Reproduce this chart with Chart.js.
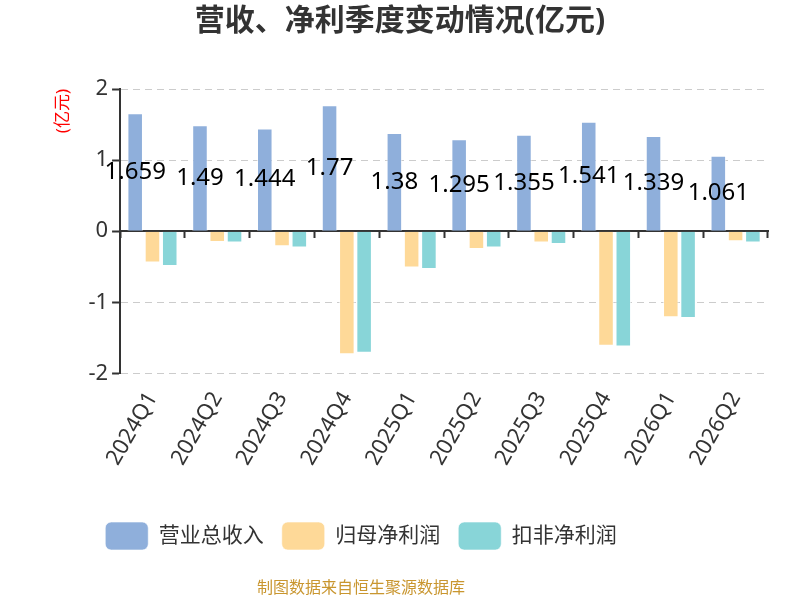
<!DOCTYPE html>
<html>
<head>
<meta charset="utf-8">
<script src="https://cdn.jsdelivr.net/npm/chart.js@4.4.1/dist/chart.umd.min.js"></script>
<style>
  html, body { margin: 0; padding: 0; background: #fff; }
</style>
</head>
<body>
<canvas id="chart" width="800" height="600"></canvas>
<script>
const quarters = ['2024Q1', '2024Q2', '2024Q3', '2024Q4', '2025Q1', '2025Q2', '2025Q3', '2025Q4', '2026Q1', '2026Q2'];
const revenue = [1.659, 1.49, 1.444, 1.77, 1.38, 1.295, 1.355, 1.541, 1.339, 1.061];
const netProfit = [-0.44, -0.15, -0.21, -1.73, -0.51, -0.25, -0.16, -1.61, -1.21, -0.14];
const deductedProfit = [-0.49, -0.16, -0.23, -1.71, -0.53, -0.23, -0.18, -1.62, -1.22, -0.16];
const seriesNames = ['营业总收入', '归母净利润', '扣非净利润'];
const yMin = -2;
const yMax = 2;

const FONT = '"Noto Sans", "Noto Sans CJK SC", sans-serif';

// value labels in the middle of the revenue bars
const barLabels = {
    id: 'barLabels',
    afterDatasetsDraw(chart) {
        const ctx = chart.ctx;
        const meta = chart.getDatasetMeta(0);
        ctx.save();
        ctx.font = '24px ' + FONT;
        ctx.fillStyle = '#000';
        ctx.textAlign = 'center';
        ctx.textBaseline = 'middle';
        meta.data.forEach((bar, i) => {
            const { x, y, base } = bar.getProps(['x', 'y', 'base'], true);
            ctx.fillText(String(revenue[i]), x, (y + base) / 2);
        });
        ctx.restore();
    }
};

// title centred on the page, legend + source line a bit left of centre
const shiftBlocks = {
    id: 'shiftBlocks',
    afterLayout(chart) {
        chart.titleBlock.left = 0;
        chart.titleBlock.right = 800;
        chart.legend.left = 0;
        chart.legend.right = 722;
    },
    afterDraw(chart) {
        const ctx = chart.ctx;
        ctx.save();
        ctx.font = '16px ' + FONT;
        ctx.fillStyle = '#c9962f';
        ctx.textAlign = 'center';
        ctx.textBaseline = 'middle';
        ctx.fillText('制图数据来自恒生聚源数据库', 361, 588);
        ctx.restore();
    }
};

new Chart(document.getElementById('chart'), {
    type: 'bar',
    data: {
        labels: quarters,
        datasets: [
            { label: seriesNames[0], data: revenue, backgroundColor: '#8fafdb' },
            { label: seriesNames[1], data: netProfit, backgroundColor: '#fed998' },
            { label: seriesNames[2], data: deductedProfit, backgroundColor: '#88d5d8' }
        ]
    },
    options: {
        responsive: false,
        animation: false,
        devicePixelRatio: 1,
        layout: { padding: { left: 53, right: 32, top: 0, bottom: 40 } },
        datasets: {
            bar: {
                categoryPercentage: 0.8,
                barPercentage: 0.9,
                borderWidth: 1,
                borderColor: 'rgba(255,255,255,0.6)'
            }
        },
        scales: {
            x: {
                offset: true,
                grid: { display: false },
                border: { display: false },
                afterFit: (scale) => { scale.height += 28; },
                ticks: {
                    autoSkip: false,
                    minRotation: 60,
                    maxRotation: 60,
                    padding: 6,
                    color: '#333',
                    font: { size: 22, family: FONT }
                }
            },
            x2: {
                type: 'category',
                axis: 'x',
                labels: quarters,
                position: { y: 0 },
                offset: true,
                grid: {
                    offset: true,
                    drawOnChartArea: false,
                    drawTicks: true,
                    tickLength: 6,
                    tickColor: '#333',
                    tickWidth: 2
                },
                border: { display: true, color: '#333', width: 2 },
                ticks: { display: false }
            },
            y: {
                min: yMin,
                max: yMax,
                ticks: {
                    stepSize: 1,
                    padding: 4,
                    color: '#333',
                    font: { size: 22, family: FONT }
                },
                grid: {
                    color: (c) => (c.tick && c.tick.value === 0 ? 'rgba(0,0,0,0)' : '#cccccc'),
                    lineWidth: 1,
                    tickColor: '#333',
                    tickWidth: 2,
                    tickLength: 8
                },
                border: { display: true, color: '#333', width: 2, dash: [7, 5] },
                title: {
                    display: true,
                    text: '(亿元)',
                    align: 'end',
                    color: '#ff0000',
                    font: { size: 17, family: FONT },
                    padding: { top: 0, bottom: 11 }
                }
            }
        },
        plugins: {
            title: {
                display: true,
                text: '营收、净利季度变动情况(亿元)',
                color: '#333',
                font: { size: 30, weight: 'bold', family: FONT },
                padding: { top: 3, bottom: 50 }
            },
            legend: {
                position: 'bottom',
                labels: {
                    boxWidth: 43,
                    boxHeight: 28,
                    useBorderRadius: true,
                    borderRadius: 6,
                    padding: 18,
                    color: '#333',
                    font: { size: 21, family: FONT }
                }
            },
            tooltip: { enabled: false }
        }
    },
    plugins: [barLabels, shiftBlocks]
});
</script>
</body>
</html>
